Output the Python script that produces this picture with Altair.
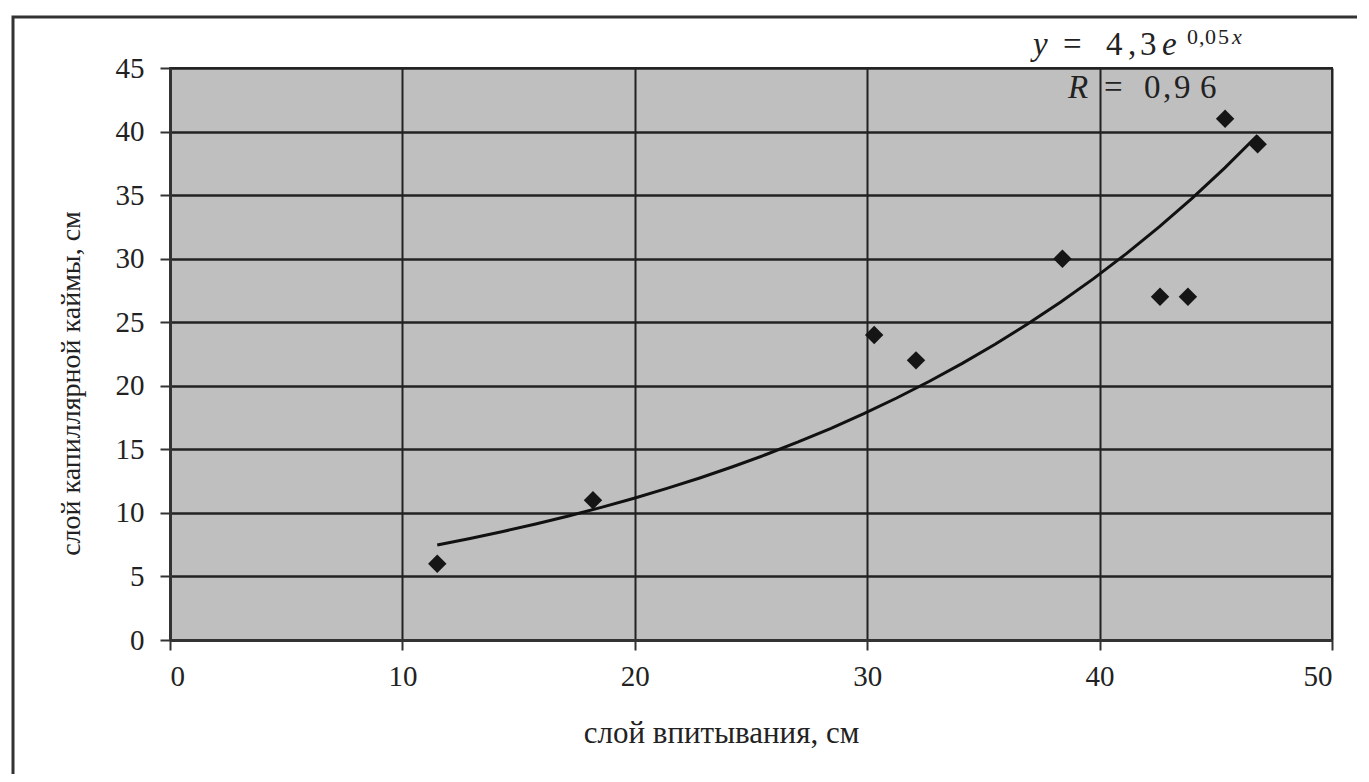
import altair as alt
import pandas as pd

x_vals = [11.5, 18.2, 30.3, 32.1, 38.4, 42.6, 43.8, 45.4, 46.8]
y_vals = [6, 11, 24, 22, 30, 27, 27, 41, 39]

x_title = "слой впитывания, см"
y_title = "слой капиллярной каймы, см"

df = pd.DataFrame({"x": x_vals, "y": y_vals})

W, H = 1162, 572
FONT = "Liberation Serif"

xs = alt.Scale(domain=[0, 50], nice=False)
ys = alt.Scale(domain=[0, 45], nice=False)

base = alt.Chart(df)

points = base.mark_point(shape="diamond", filled=True, size=340, color="#151515", opacity=1).encode(
    x=alt.X("x:Q", scale=xs,
            axis=alt.Axis(values=[0, 10, 20, 30, 40, 50], title=x_title,
                          titleX=551, titleY=102, titleBaseline="alphabetic", titleFontSize=31,
                          labelPadding=12, tickSize=10, gridWidth=2)),
    y=alt.Y("y:Q", scale=ys,
            axis=alt.Axis(values=list(range(0, 50, 5)), title=y_title,
                          titleX=-99, titleY=315, titleBaseline="middle", titleFontSize=28,
                          labelPadding=16, tickSize=10, gridWidth=2.6)),
)

# exponential trend (least squares on log y, as in a spreadsheet trendline)
trend = (
    base.transform_calculate(ly="log(datum.y)")
    .transform_regression("x", "ly", method="poly", order=1)
    .transform_calculate(yfit="exp(datum.ly)")
    .mark_line(color="#111", strokeWidth=3)
    .encode(x=alt.X("x:Q", scale=xs), y=alt.Y("yfit:Q", scale=ys))
)

# outer frame
frame = alt.Chart(pd.DataFrame({"a": [0]})).mark_rect(
    fill=None, stroke="#333", strokeWidth=3
).encode(
    x=alt.value(-157), x2=alt.value(W + 200),
    y=alt.value(-51), y2=alt.value(H + 300),
)

ann = pd.DataFrame({"a": [0]})
OX, OY = 170, 68


def txt(t, px, py, size=33, style="normal"):
    return alt.Chart(ann).mark_text(
        text=t, font=FONT, fontSize=size, fontStyle=style, align="left",
        baseline="alphabetic", color="#222"
    ).encode(x=alt.value(px - OX), y=alt.value(py - OY))


eq = alt.layer(
    txt("y", 1033, 55, style="italic"),
    txt("=", 1063, 55),
    txt("4", 1106, 55),
    txt(",", 1128, 55),
    txt("3", 1140, 55),
    txt("e", 1162, 55, style="italic"),
    txt("0", 1187, 44, size=22),
    txt(",", 1199, 44, size=22),
    txt("0", 1205, 44, size=22),
    txt("5", 1218, 44, size=22),
    txt("x", 1232, 44, size=22, style="italic"),
    txt("R", 1068, 98, style="italic"),
    txt("=", 1104, 98),
    txt("0", 1144, 98),
    txt(",", 1163, 98),
    txt("9", 1174, 98),
    txt("6", 1200, 98),
)

chart = alt.layer(frame, trend, points, eq).properties(
    width=W, height=H,
    autosize=alt.AutoSizeParams(type="none"),
    padding={"left": 162, "top": 60, "right": 25, "bottom": 134},
    background="white",
).configure_view(
    fill="#bfbfbf", stroke="#333", strokeWidth=2
).configure_axis(
    grid=True, gridColor="#222", gridOpacity=1,
    domainColor="#333", domainWidth=3, tickColor="#333", tickWidth=2,
    labelFont=FONT, labelFontSize=29, labelColor="#222",
    titleFont=FONT, titleFontWeight="normal", titleColor="#222",
)

chart.save("out.html", embed_options={"renderer": "svg", "actions": False})
